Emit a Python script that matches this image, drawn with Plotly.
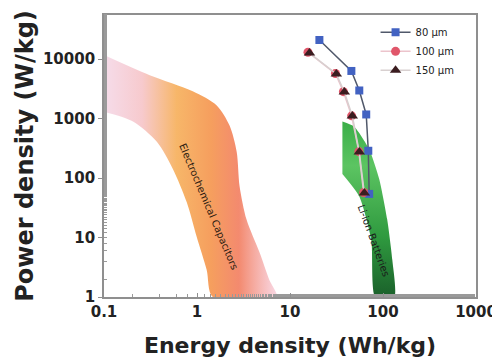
import plotly.graph_objects as go

# ---- data ----
labels = ["80 µm", "100 µm", "150 µm"]
e80 = [20.7, 45.7, 55.6, 66, 69.5, 71]
p80 = [20900, 6300, 2960, 1170, 287, 54]
e100 = [15.6, 30.8, 37.5, 46, 55, 62]
p100 = [13000, 5700, 2830, 1110, 278, 57]
e150 = [16.2, 31.5, 38.4, 46.8, 55.6, 63]
p150 = [12600, 5600, 2790, 1100, 273, 56]

# Electrochemical capacitor region outline (upper edge then lower edge reversed)
cap_e = [0.1, 0.31, 0.9, 1.63, 2.24, 2.67, 2.87, 3.41, 4.71, 6.0, 7.2,
         1.48, 1.27, 0.99, 0.776, 0.55, 0.37, 0.205, 0.1]
cap_p = [11700, 5350, 2870, 1660, 760, 276, 73, 20, 5.6, 1.94, 1,
         1, 2.87, 10.4, 39, 142, 405, 890, 1300]

# Li-ion battery region outline
bat_e = [36.6, 49, 70.6, 91, 111, 126, 132, 82.6, 74.8, 55.6, 36.6]
bat_p = [890, 730, 310, 96, 20, 4.2, 1, 1, 9.2, 49, 117]

xticks = [0.1, 1, 10, 100, 1000]
yticks = [1, 10, 100, 1000, 10000]

FONT = "DejaVu Sans, sans-serif"

fig = go.Figure()

fig.add_trace(go.Scatter(
    x=cap_e, y=cap_p, fill="toself", mode="lines",
    line=dict(width=0, color="rgba(0,0,0,0)", shape="spline", smoothing=0.8),
    fillgradient=dict(type="horizontal", colorscale=[
        [0.0, "rgba(244,214,230,0.85)"], [0.22, "rgba(246,196,200,0.9)"],
        [0.42, "rgba(246,176,92,0.92)"], [0.62, "rgba(245,150,80,0.92)"],
        [0.78, "rgba(242,125,95,0.9)"], [1.0, "rgba(247,205,220,0.8)"]]),
    showlegend=False, hoverinfo="skip"))

fig.add_trace(go.Scatter(
    x=bat_e, y=bat_p, fill="toself", mode="lines",
    line=dict(width=0, color="rgba(0,0,0,0)", shape="spline", smoothing=0.6),
    fillgradient=dict(type="vertical", colorscale=[
        [0.0, "#1a5f2a"], [0.35, "#2f9a3f"], [0.75, "#5cc462"], [1.0, "#3aae48"]]),
    showlegend=False, hoverinfo="skip"))

fig.add_trace(go.Scatter(
    x=e80, y=p80, mode="lines+markers", name=labels[0],
    line=dict(color="#50586a", width=1.5),
    marker=dict(symbol="square", size=8, color="#4262c2")))
fig.add_trace(go.Scatter(
    x=e100, y=p100, mode="lines+markers", name=labels[1],
    line=dict(color="#ecc4cc", width=1.5),
    marker=dict(symbol="circle", size=9, color="#e0566a")))
fig.add_trace(go.Scatter(
    x=e150, y=p150, mode="lines+markers", name=labels[2],
    line=dict(color="#d8d0d0", width=1.5),
    marker=dict(symbol="triangle-up", size=10, color="#3b1d20")))

fig.add_annotation(x=0.127, y=1.525, xref="x", yref="y", text="Electrochemical Capacitors",
                   showarrow=False, textangle=67,
                   font=dict(family=FONT, size=10, color="#2a1a10"))
fig.add_annotation(x=1.9, y=0.95, xref="x", yref="y", text="Li-ion Batteries",
                   showarrow=False, textangle=70,
                   font=dict(family=FONT, size=10, color="#1a1a1a"))

axis_common = dict(
    type="log", showgrid=False, zeroline=False, showline=True, linecolor="#8f8f8f",
    linewidth=1.8, mirror=True, ticklen=4, tickcolor="#8f8f8f",
    tickfont=dict(family=FONT, size=15, color="#222222"),
    ticklabeloverflow="allow", automargin=False,
)

fig.update_xaxes(**axis_common, range=[-1, 3], tickvals=xticks, ticks="inside",
                 ticktext=["<b>%s</b>" % v for v in xticks],
                 minor=dict(ticks="inside", ticklen=3, tickcolor="#9a9a9a"),
                 title=dict(text="<b>Energy density (Wh/kg)</b>", standoff=22,
                            font=dict(family=FONT, size=22, color="#222222")))
fig.update_yaxes(**axis_common, range=[0, 4.74], tickvals=yticks, ticks="outside",
                 ticktext=["<b>%s</b>" % v for v in yticks],
                 minor=dict(ticks="inside", ticklen=3, tickcolor="#9a9a9a"),
                 title=dict(text="<b>Power density (W/kg)</b>", standoff=3,
                            font=dict(family=FONT, size=24, color="#222222")))

# page body has an 8px default margin, so the figure is 492x350 placed at (8, 8)
fig.update_layout(
    width=492, height=350,
    margin=dict(l=96, r=24, t=7, b=61),
    plot_bgcolor="white", paper_bgcolor="white",
    font=dict(family=FONT, size=13, color="#222222"),
    legend=dict(x=0.73, y=0.99, xanchor="left", yanchor="top",
                bgcolor="rgba(0,0,0,0)", font=dict(family=FONT, size=10, color="#222222"),
                itemwidth=30, tracegroupgap=0),
)

fig.write_html("out.html")
